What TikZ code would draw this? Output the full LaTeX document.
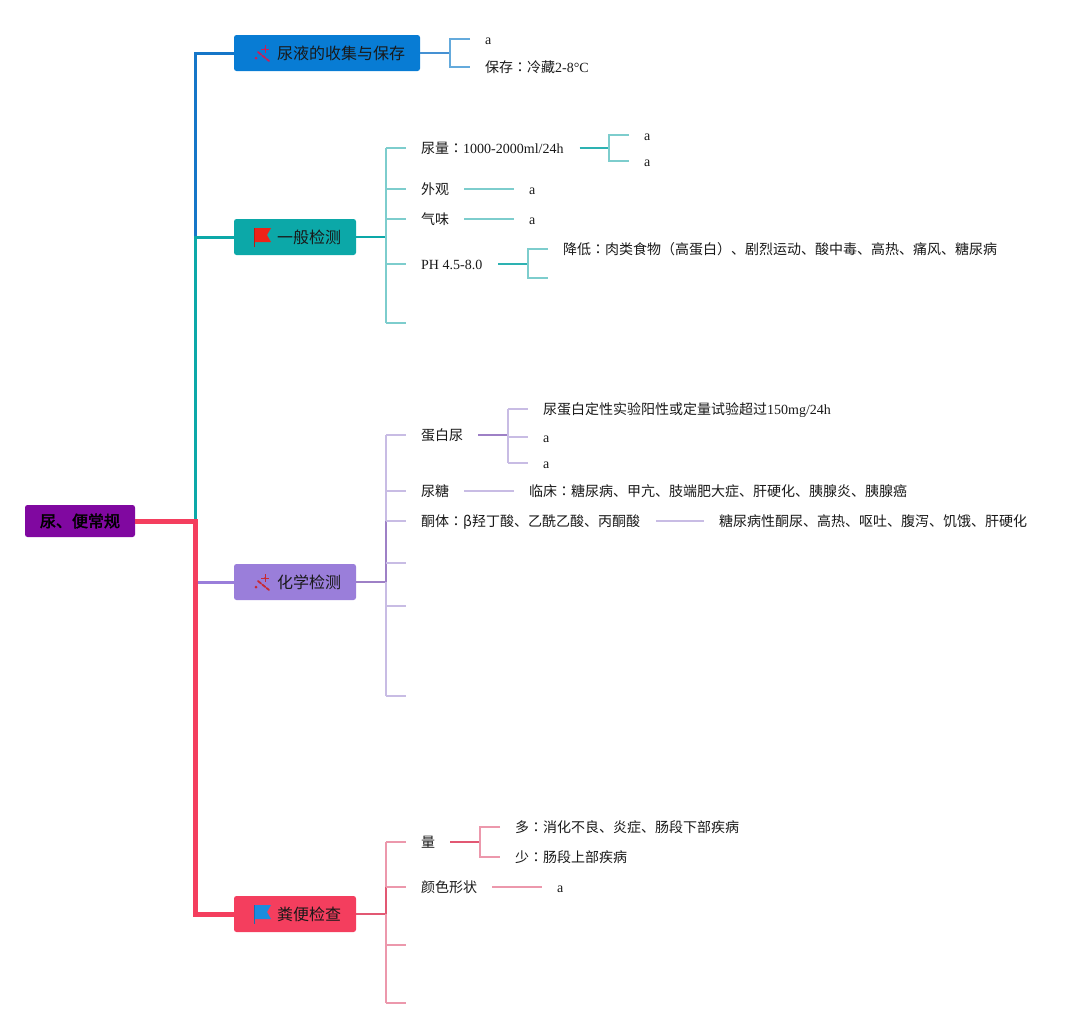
\documentclass[tikz,border=0pt]{standalone}
\usepackage{fontspec}
\setmainfont{Liberation Serif}
\newfontfamily\cjk{Noto Sans CJK SC}
\newfontfamily\cjkjp{Noto Sans CJK JP}
\newfontfamily\cjkb{Noto Sans CJK SC}[FakeBold=2.5]
\newcommand{\C}[1]{{\cjk #1}}
\newcommand{\CC}{{\cjkjp ：}}
\definecolor{cRoot}{RGB}{128,8,160}
\definecolor{cBlue}{RGB}{8,124,212}
\definecolor{cTeal}{RGB}{12,168,168}
\definecolor{cPurp}{RGB}{154,126,218}
\definecolor{cRed}{RGB}{244,62,94}
\definecolor{tBlue}{RGB}{22,118,200}
\definecolor{lBlue}{RGB}{100,170,220}
\definecolor{lTeal}{RGB}{125,205,205}
\definecolor{dTeal}{RGB}{45,178,178}
\definecolor{lPurp}{RGB}{200,188,228}
\definecolor{dPurp}{RGB}{158,128,198}
\definecolor{lRed}{RGB}{236,152,172}
\definecolor{dRed}{RGB}{226,88,115}
\definecolor{wandc}{RGB}{205,30,85}
\definecolor{wandr}{RGB}{200,40,50}
\definecolor{flagr}{RGB}{238,34,24}
\definecolor{flagb}{RGB}{26,140,222}
\begin{document}
\begin{tikzpicture}[x=1pt,y=-1pt,
  box/.style={rectangle, rounded corners=2.5, minimum height=36, inner sep=0},
  boxtext/.style={anchor=west, inner sep=0, font=\fontsize{16}{18}\selectfont\cjk, text=black!90},
  leaf/.style={anchor=west, inner sep=0, text height=12, text depth=2, font=\fontsize{14}{16}\selectfont, text=black!90},
  trunk/.style={line width=3},
  conn/.style={line width=2},
  brk/.style={line width=1.6},
]
\useasboundingbox (0,0) rectangle (1087,1029);

% ---------- main boxes ----------
\node[box, fill=cRoot, minimum width=110, minimum height=32, font=\fontsize{16}{18}\selectfont\cjkb, text=black] (root) at (80,521) {尿、便常规};
\node[box, fill=cBlue, minimum width=186] (n1) at (327,53) {};
\node[boxtext] (n1t) at (277,53) {尿液的收集与保存};
\node[box, fill=cTeal, minimum width=122] (n2) at (295,237) {};
\node[boxtext] (n2t) at (277,237) {一般检测};
\node[box, fill=cPurp, minimum width=122] (n3) at (295,582) {};
\node[boxtext] (n3t) at (277,582) {化学检测};
\node[box, fill=cRed, minimum width=122] (n4) at (295,914) {};
\node[boxtext] (n4t) at (277,914) {粪便检查};

% icons: wands
\foreach \n/\c in {n1t/wandc, n3t/wandr}{
  \draw[\c, line width=1.8, line cap=round, dash pattern=on 4 off 1.5] ([shift={(-19,-1)}]\n.west) -- ([shift={(-8,8)}]\n.west);
  \fill[\c] ([shift={(-21,5)}]\n.west) circle (1.5);
  \fill[\c] ([shift={(-12,-4)}]\n.west) circle (1.0);
  \draw[\c, line width=0.8] ([shift={(-12,-8)}]\n.west) -- ([shift={(-12,0)}]\n.west)
                            ([shift={(-16,-4)}]\n.west) -- ([shift={(-8,-4)}]\n.west);
}
% icons: flags
\fill[flagr] ([shift={(-23,-9)}]n2t.west) -- ++(17,0) -- ++(-4,7) -- ++(4,7) -- ++(-17,0) -- cycle;
\draw[flagr!80!black, line width=1] ([shift={(-23,-9)}]n2t.west) -- ++(0,19);
\fill[flagb] ([shift={(-23,-9)}]n4t.west) -- ++(17,0) -- ++(-4,7) -- ++(4,7) -- ++(-17,0) -- cycle;
\draw[flagb!80!black, line width=1] ([shift={(-23,-9)}]n4t.west) -- ++(0,19);

% ---------- trunk ----------
\coordinate (t) at (195,521);
\draw[tBlue, trunk] (n2.west -| t) |- (n1.west);
\draw[cTeal, trunk] (t) |- (n2.west);
\draw[cPurp, trunk] (n3.west -| t) -- (n3.west);
\draw[cRed, line width=5] (root.east) -- (t) |- (n4.west);

% ---------- section 1 ----------
\node[leaf] (a1) at (485,39) {a};
\node[leaf] (a2) at (485,67) {\C{保存}\CC\C{冷藏}2-8°C};
\coordinate (k1) at (450,53);
\draw[tBlue!80!white, conn] (n1.east) -- (k1);
\draw[lBlue, brk] ([xshift=-15]a1.west) -| (k1) |- ([xshift=-15]a2.west);

% ---------- section 2 ----------
\node[leaf] (c21) at (421,148) {\C{尿量}\CC 1000-2000ml/24h};
\node[leaf] (c22) at (421,189) {\C{外观}};
\node[leaf] (c23) at (421,219) {\C{气味}};
\node[leaf] (c24) at (421,264) {PH 4.5-8.0};
\coordinate (c25) at (421,323);
\coordinate (k2) at (386,237);
\draw[cTeal, conn] (n2.east) -- (k2);
\draw[lTeal, brk] (k2 |- c21) -- (k2 |- c25);
\foreach \c in {c21,c22,c23,c24,c25}
  \draw[lTeal, brk] (k2 |- \c) -- ([xshift=-15]\c.west);

\node[leaf] (g211) at (644,135) {a};
\node[leaf] (g212) at (644,161) {a};
\coordinate (k21) at (609,148);
\draw[dTeal, conn] ([xshift=16]c21.east) -- (k21);
\draw[lTeal, brk] ([xshift=-15]g211.west) -| (k21) |- ([xshift=-15]g212.west);

\node[leaf] (g22) at (529,189) {a};
\draw[lTeal, brk] ([xshift=15]c22.east) -- ([xshift=-15]g22.west);
\node[leaf] (g23) at (529,219) {a};
\draw[lTeal, brk] ([xshift=15]c23.east) -- ([xshift=-15]g23.west);

\node[leaf] (g241) at (563,249) {\C{降低}\CC\C{肉类食物（高蛋白）、剧烈运动、酸中毒、高热、痛风、糖尿病}};
\coordinate (g242) at (563,278);
\coordinate (k24) at (528,264);
\draw[dTeal, conn] ([xshift=16]c24.east) -- (k24);
\draw[lTeal, brk] ([xshift=-15]g241.west) -| (k24) |- ([xshift=-15]g242.west);

% ---------- section 3 ----------
\node[leaf] (c31) at (421,435) {\C{蛋白尿}};
\node[leaf] (c32) at (421,491) {\C{尿糖}};
\node[leaf] (c33) at (421,521) {\C{酮体}\CC\C{β羟丁酸、乙酰乙酸、丙酮酸}};
\coordinate (c34) at (421,563);
\coordinate (c35) at (421,606);
\coordinate (c36) at (421,696);
\coordinate (k3) at (386,582);
\draw[dPurp, conn] (n3.east) -- (k3);
\draw[lPurp, brk] (k3 |- c31) -- (k3 |- c36);
\draw[dPurp, brk] (k3 |- c33) -- (k3);
\foreach \c in {c31,c32,c33,c34,c35,c36}
  \draw[lPurp, brk] (k3 |- \c) -- ([xshift=-15]\c.west);

\node[leaf] (g311) at (543,409) {\C{尿蛋白定性实验阳性或定量试验超过}150mg/24h};
\node[leaf] (g312) at (543,437) {a};
\node[leaf] (g313) at (543,463) {a};
\coordinate (k31) at (508,435);
\draw[dPurp, conn] ([xshift=15]c31.east) -- (k31);
\draw[lPurp, brk] (k31 |- g311) -- (k31 |- g313);
\foreach \g in {g311,g312,g313}
  \draw[lPurp, brk] (k31 |- \g) -- ([xshift=-15]\g.west);

\node[leaf] (g32) at (529,491) {\C{临床}\CC\C{糖尿病、甲亢、肢端肥大症、肝硬化、胰腺炎、胰腺癌}};
\draw[lPurp, brk] ([xshift=15]c32.east) -- ([xshift=-15]g32.west);
\node[leaf] (g33) at (719,521) {\C{糖尿病性酮尿、高热、呕吐、腹泻、饥饿、肝硬化}};
\draw[lPurp, brk] ([xshift=16]c33.east) -- ([xshift=-15]g33.west);

% ---------- section 4 ----------
\node[leaf] (c41) at (421,842) {\C{量}};
\node[leaf] (c42) at (421,887) {\C{颜色形状}};
\coordinate (c43) at (421,945);
\coordinate (c44) at (421,1003);
\coordinate (k4) at (386,914);
\draw[dRed, conn] (n4.east) -- (k4);
\draw[lRed, brk] (k4 |- c41) -- (k4 |- c44);
\draw[dRed, brk] (k4 |- c42) -- (k4);
\foreach \c in {c41,c42,c43,c44}
  \draw[lRed, brk] (k4 |- \c) -- ([xshift=-15]\c.west);

\node[leaf] (g411) at (515,827) {\C{多}\CC\C{消化不良、炎症、肠段下部疾病}};
\node[leaf] (g412) at (515,857) {\C{少}\CC\C{肠段上部疾病}};
\coordinate (k41) at (480,842);
\draw[dRed, conn] ([xshift=15]c41.east) -- (k41);
\draw[lRed, brk] ([xshift=-15]g411.west) -| (k41) |- ([xshift=-15]g412.west);

\node[leaf] (g42) at (557,887) {a};
\draw[lRed, brk] ([xshift=15]c42.east) -- ([xshift=-15]g42.west);
\end{tikzpicture}
\end{document}
